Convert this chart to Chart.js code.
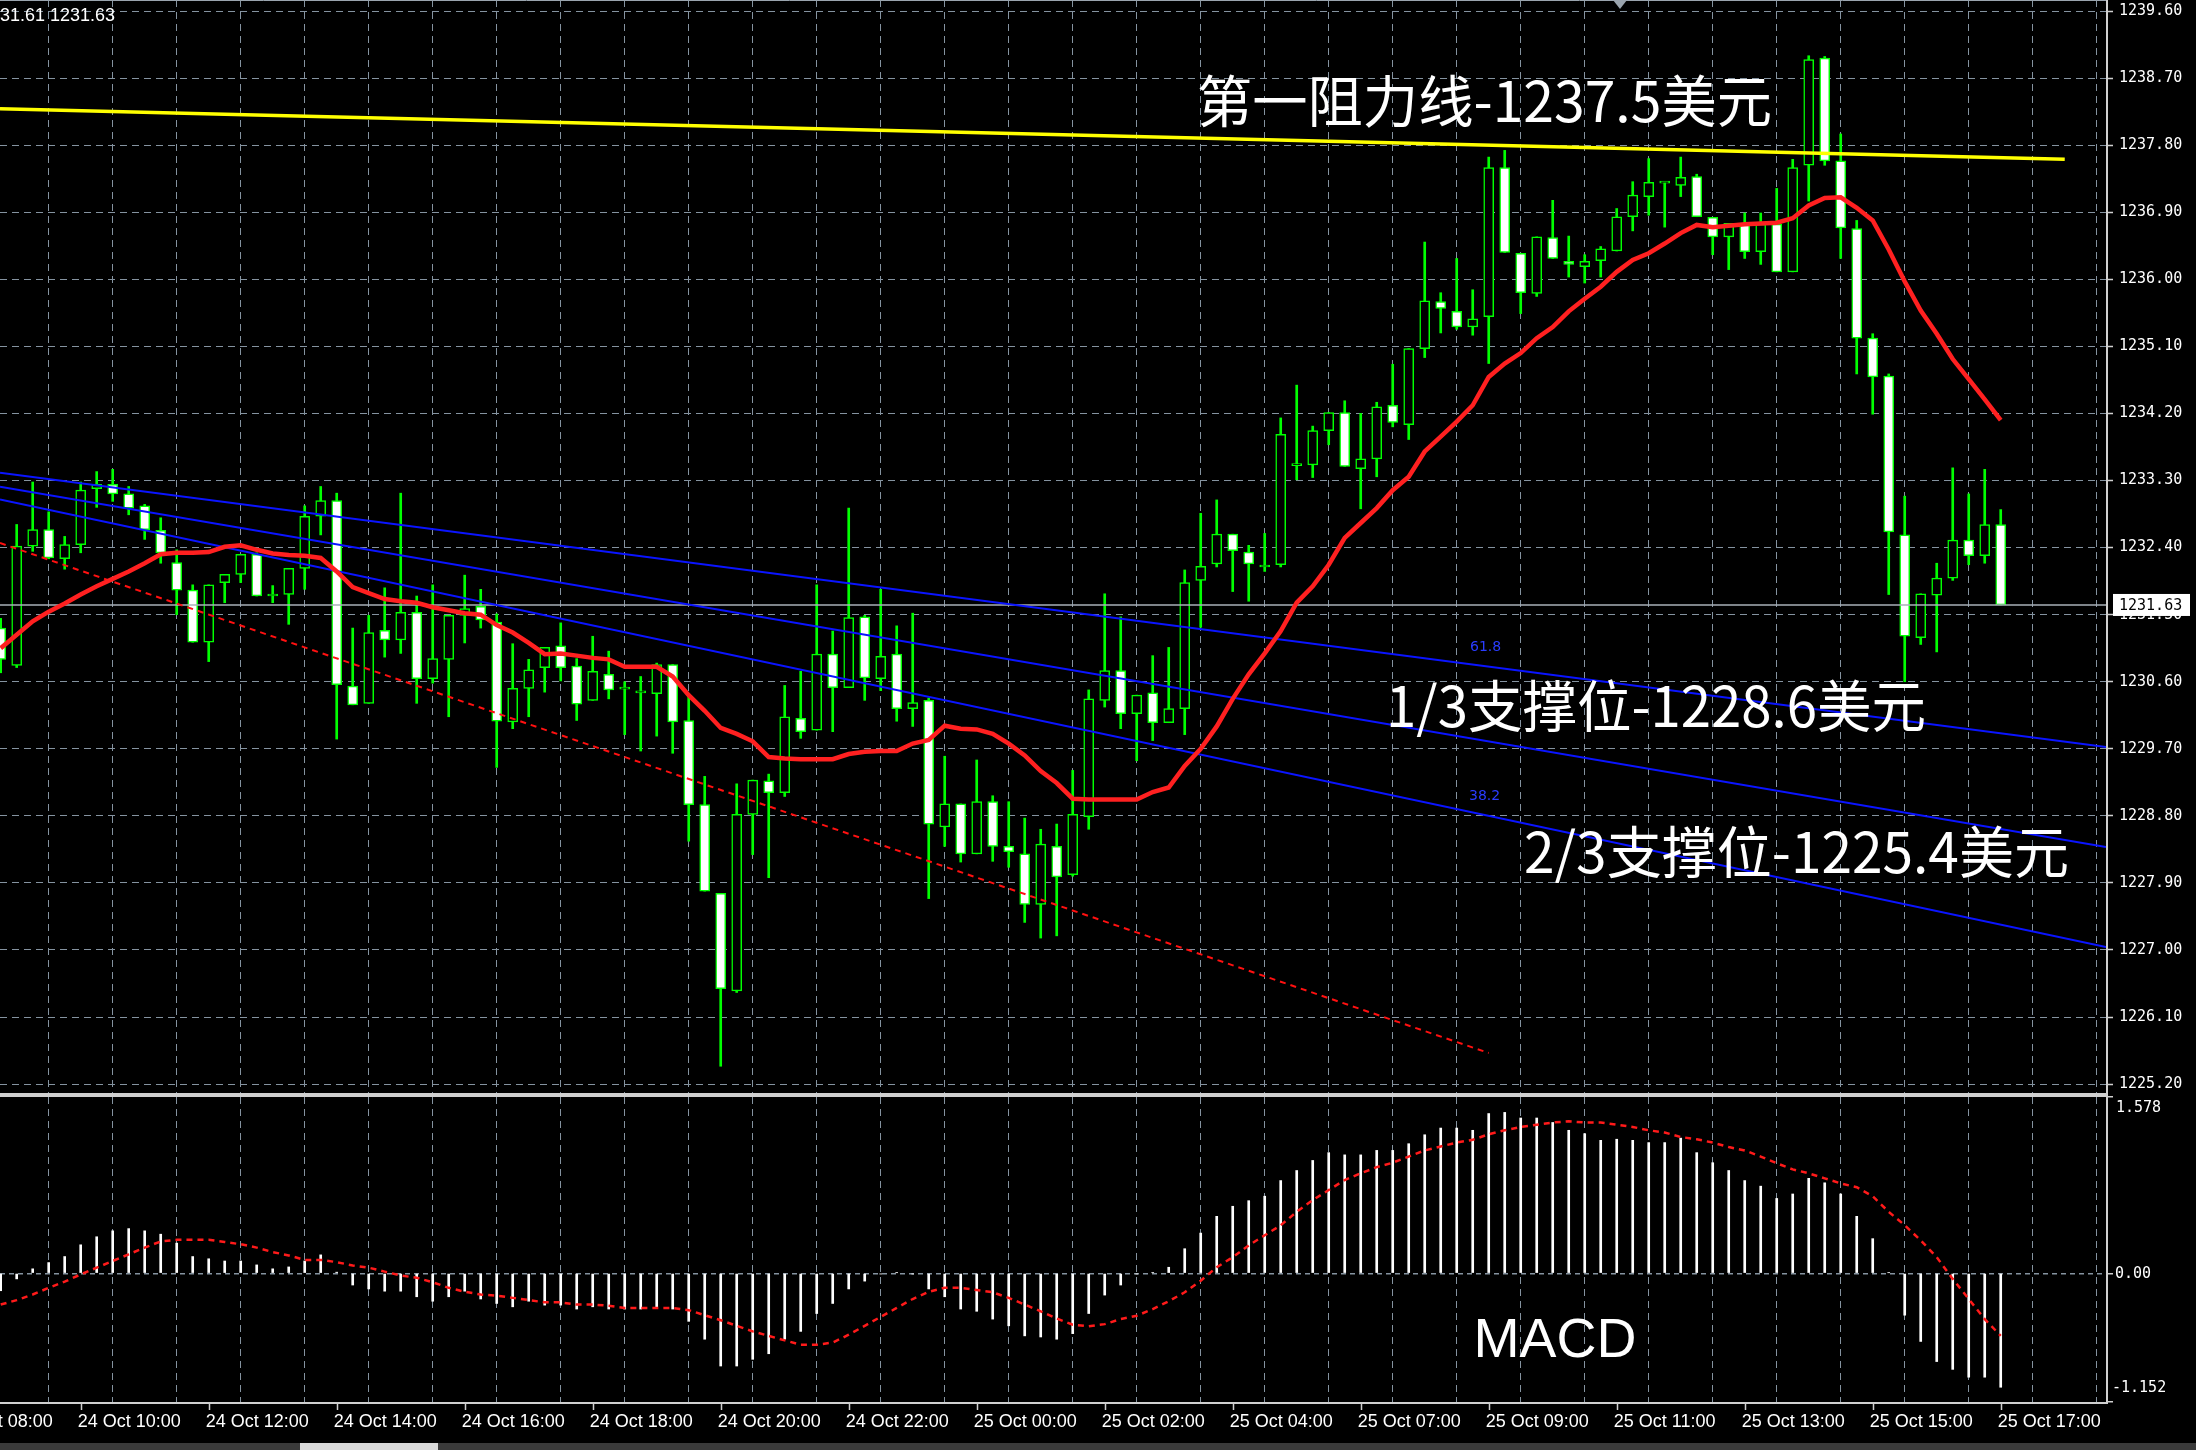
<!DOCTYPE html>
<html><head><meta charset="utf-8">
<script src="https://cdn.jsdelivr.net/npm/chart.js@4.4.1/dist/chart.umd.min.js"></script>
<style>
html,body{margin:0;padding:0;background:#000;width:2196px;height:1450px;overflow:hidden;}
.w{position:absolute;left:0;}
</style></head><body>
<div class="w" style="top:0;width:2196px;height:1095px"><canvas id="c1" width="2196" height="1095"></canvas></div>
<div class="w" style="top:1095px;width:2196px;height:355px"><canvas id="c2" width="2196" height="355"></canvas></div>
<script>
// ---------------- DATA ----------------
const timeLabels = ["24 Oct 08:00","24 Oct 10:00","24 Oct 12:00","24 Oct 14:00","24 Oct 16:00","24 Oct 18:00","24 Oct 20:00","24 Oct 22:00","25 Oct 00:00","25 Oct 02:00","25 Oct 04:00","25 Oct 07:00","25 Oct 09:00","25 Oct 11:00","25 Oct 13:00","25 Oct 15:00","25 Oct 17:00"];
const timeLabelBar = [-3,5,13,21,29,37,45,53,61,69,77,85,93,101,109,117,125];
const gridBars = [1,5,9,13,17,21,25,29,33,37,41,45,49,53,57,61,65,69,73,77,81,85,89,93,97,101,105,109,113,117,121,125,129];
const priceTicks = [1239.60,1238.70,1237.80,1236.90,1236.00,1235.10,1234.20,1233.30,1232.40,1231.50,1230.60,1229.70,1228.80,1227.90,1227.00,1226.10,1225.20];

const open  = [1231.32,1230.82,1232.42,1232.64,1232.25,1232.44,1233.19,1233.25,1233.12,1232.96,1232.63,1232.20,1231.83,1231.13,1231.93,1232.04,1232.31,1231.75,1231.77,1232.12,1232.82,1233.03,1230.54,1230.31,1231.29,1231.16,1231.53,1230.64,1230.90,1231.49,1231.61,1231.40,1230.06,1230.51,1230.79,1231.08,1230.81,1230.35,1230.70,1230.50,1230.45,1230.44,1230.83,1230.08,1228.95,1227.76,1226.45,1228.82,1229.27,1229.11,1230.11,1229.95,1230.97,1230.52,1231.47,1230.64,1230.97,1230.24,1230.35,1228.65,1228.96,1228.29,1228.99,1228.39,1228.29,1227.61,1228.39,1228.01,1228.79,1230.35,1230.75,1230.17,1230.45,1230.05,1230.24,1231.96,1232.18,1232.58,1232.34,1232.14,1232.17,1233.50,1233.51,1233.97,1234.21,1233.46,1233.59,1234.31,1234.05,1235.07,1235.70,1235.57,1235.36,1235.50,1237.50,1236.35,1235.81,1236.56,1236.24,1236.17,1236.25,1236.38,1236.84,1237.11,1237.29,1237.26,1237.38,1236.83,1236.57,1236.74,1236.37,1236.74,1236.10,1237.53,1238.97,1237.59,1236.68,1235.21,1234.70,1232.57,1231.19,1231.76,1231.99,1232.50,1232.29,1232.71];
const high  = [1231.45,1232.71,1233.28,1232.88,1232.55,1233.28,1233.42,1233.45,1233.22,1232.98,1232.80,1232.37,1231.90,1231.90,1232.04,1232.31,1232.33,1231.89,1232.12,1232.96,1233.22,1233.13,1231.32,1231.49,1231.86,1233.13,1231.75,1231.90,1231.49,1232.03,1231.84,1231.51,1231.11,1230.90,1231.06,1231.39,1230.91,1231.21,1231.01,1230.60,1230.67,1230.85,1230.83,1230.42,1229.33,1227.76,1229.23,1229.28,1229.36,1230.55,1230.74,1231.90,1231.28,1232.93,1231.49,1231.84,1231.35,1231.52,1230.38,1229.60,1228.96,1229.55,1229.07,1228.99,1228.77,1228.62,1228.69,1229.41,1230.49,1231.78,1231.47,1230.42,1230.95,1231.06,1232.10,1232.86,1233.04,1232.58,1232.43,1232.59,1234.14,1234.58,1234.03,1234.21,1234.37,1234.20,1234.35,1234.86,1235.07,1236.50,1235.82,1236.28,1235.86,1237.64,1237.73,1236.35,1236.57,1237.06,1236.58,1236.33,1236.44,1236.95,1237.31,1237.62,1237.30,1237.64,1237.41,1236.83,1236.75,1236.89,1236.89,1237.22,1237.61,1239.00,1238.99,1237.95,1236.79,1235.27,1234.73,1233.09,1231.78,1232.19,1233.47,1233.12,1233.45,1232.91];
const low   = [1230.72,1230.79,1232.35,1232.25,1232.11,1232.33,1232.94,1233.02,1232.84,1232.51,1232.19,1231.50,1231.13,1230.87,1231.66,1231.93,1231.75,1231.66,1231.37,1231.84,1232.57,1229.83,1230.29,1230.31,1230.93,1230.98,1230.31,1230.58,1230.13,1231.12,1231.32,1229.45,1229.97,1230.13,1230.46,1230.61,1230.08,1230.35,1230.37,1229.89,1229.67,1229.87,1229.64,1228.46,1227.79,1225.44,1226.43,1228.28,1227.97,1229.06,1229.84,1229.95,1229.93,1230.52,1230.35,1230.48,1230.07,1230.00,1227.69,1228.39,1228.18,1228.29,1228.19,1228.11,1227.37,1227.16,1227.19,1227.99,1228.62,1230.26,1229.97,1229.54,1229.81,1230.05,1229.89,1231.33,1232.14,1231.81,1231.68,1232.08,1232.14,1233.31,1233.34,1233.78,1233.49,1232.92,1233.35,1234.02,1233.85,1234.95,1235.28,1235.33,1235.25,1234.87,1236.36,1235.54,1235.77,1236.28,1236.03,1235.95,1236.03,1236.38,1236.65,1236.86,1236.70,1237.11,1236.84,1236.33,1236.13,1236.28,1236.20,1236.10,1236.10,1237.05,1237.53,1236.28,1234.73,1234.19,1231.77,1230.60,1231.10,1231.00,1231.96,1232.17,1232.19,1231.63];
const close = [1230.90,1232.42,1232.64,1232.26,1232.44,1233.17,1233.25,1233.12,1232.93,1232.64,1232.33,1231.83,1231.13,1231.90,1232.04,1232.31,1231.75,1231.75,1232.12,1232.82,1233.03,1230.56,1230.29,1231.26,1231.16,1231.53,1230.64,1230.91,1231.49,1231.58,1231.43,1230.07,1230.51,1230.76,1231.06,1230.79,1230.30,1230.74,1230.49,1230.50,1230.45,1230.83,1230.06,1228.95,1227.79,1226.48,1228.82,1229.28,1229.11,1230.13,1229.93,1230.97,1230.52,1231.46,1230.65,1230.94,1230.24,1230.32,1228.69,1228.96,1228.29,1228.99,1228.39,1228.32,1227.61,1228.42,1227.98,1228.82,1230.37,1230.75,1230.17,1230.42,1230.05,1230.24,1231.93,1232.15,1232.58,1232.36,1232.18,1232.14,1233.92,1233.50,1233.97,1234.21,1233.49,1233.59,1234.29,1234.08,1235.07,1235.71,1235.61,1235.36,1235.47,1237.50,1236.36,1235.82,1236.57,1236.28,1236.20,1236.24,1236.41,1236.84,1237.13,1237.30,1237.29,1237.37,1236.84,1236.57,1236.75,1236.37,1236.74,1236.10,1237.50,1238.95,1237.59,1236.69,1235.21,1234.69,1232.61,1231.21,1231.78,1231.99,1232.50,1232.29,1232.71,1231.63];
const maLine = [1231.05,1231.23,1231.41,1231.54,1231.65,1231.77,1231.88,1231.98,1232.08,1232.19,1232.31,1232.33,1232.33,1232.34,1232.41,1232.43,1232.37,1232.32,1232.30,1232.29,1232.26,1232.08,1231.87,1231.79,1231.71,1231.68,1231.66,1231.60,1231.56,1231.52,1231.50,1231.36,1231.26,1231.12,1230.97,1230.98,1230.95,1230.92,1230.90,1230.80,1230.80,1230.80,1230.67,1230.42,1230.21,1229.98,1229.90,1229.80,1229.59,1229.57,1229.56,1229.56,1229.56,1229.63,1229.66,1229.67,1229.67,1229.77,1229.82,1230.01,1229.97,1229.96,1229.90,1229.77,1229.61,1229.40,1229.24,1229.03,1229.02,1229.02,1229.02,1229.02,1229.12,1229.18,1229.47,1229.70,1230.00,1230.37,1230.70,1230.98,1231.28,1231.66,1231.88,1232.17,1232.53,1232.73,1232.93,1233.17,1233.35,1233.69,1233.89,1234.09,1234.31,1234.69,1234.87,1235.01,1235.21,1235.36,1235.57,1235.74,1235.90,1236.10,1236.26,1236.35,1236.48,1236.62,1236.73,1236.70,1236.72,1236.74,1236.75,1236.76,1236.82,1236.99,1237.09,1237.10,1236.96,1236.79,1236.40,1235.97,1235.58,1235.27,1234.93,1234.66,1234.39,1234.11];
const macdHist = [-0.156,-0.05,0.04,0.096,0.15,0.255,0.327,0.38,0.40,0.38,0.35,0.27,0.15,0.13,0.11,0.11,0.075,0.04,0.057,0.11,0.165,0.01,-0.105,-0.14,-0.16,-0.16,-0.21,-0.25,-0.21,-0.16,-0.23,-0.27,-0.30,-0.25,-0.285,-0.285,-0.32,-0.30,-0.32,-0.32,-0.32,-0.30,-0.32,-0.43,-0.59,-0.83,-0.83,-0.77,-0.72,-0.59,-0.52,-0.36,-0.27,-0.14,-0.07,-0.005,0.005,-0.005,-0.14,-0.21,-0.32,-0.34,-0.41,-0.47,-0.56,-0.57,-0.59,-0.54,-0.36,-0.195,-0.105,-0.005,0.005,0.054,0.22,0.36,0.51,0.60,0.65,0.69,0.83,0.92,1.01,1.08,1.06,1.06,1.10,1.10,1.16,1.24,1.30,1.30,1.28,1.43,1.44,1.39,1.39,1.35,1.28,1.25,1.19,1.20,1.19,1.17,1.17,1.21,1.08,0.99,0.92,0.83,0.78,0.67,0.71,0.85,0.81,0.71,0.51,0.31,0.005,-0.375,-0.61,-0.79,-0.86,-0.93,-0.93,-1.02];
const macdSignal = [-0.28,-0.24,-0.19,-0.13,-0.075,-0.01,0.05,0.11,0.17,0.23,0.285,0.30,0.30,0.30,0.28,0.26,0.23,0.19,0.16,0.12,0.12,0.10,0.07,0.05,0.015,-0.02,-0.04,-0.08,-0.13,-0.165,-0.19,-0.20,-0.22,-0.24,-0.26,-0.26,-0.28,-0.28,-0.29,-0.31,-0.31,-0.31,-0.31,-0.33,-0.375,-0.42,-0.47,-0.52,-0.56,-0.60,-0.64,-0.64,-0.62,-0.55,-0.47,-0.39,-0.31,-0.23,-0.165,-0.13,-0.13,-0.15,-0.17,-0.22,-0.28,-0.34,-0.405,-0.46,-0.475,-0.455,-0.41,-0.38,-0.32,-0.25,-0.17,-0.066,0.054,0.144,0.25,0.34,0.43,0.55,0.655,0.745,0.835,0.895,0.95,0.99,1.045,1.10,1.135,1.17,1.195,1.245,1.28,1.31,1.33,1.35,1.36,1.35,1.35,1.33,1.31,1.28,1.26,1.22,1.20,1.17,1.13,1.10,1.045,0.985,0.93,0.895,0.85,0.805,0.77,0.69,0.55,0.43,0.295,0.144,-0.05,-0.23,-0.41,-0.56];

// drawn lines: [bar index, price]
const resistanceLine = [[-0.044,1238.29],[129,1237.61]];
const channel618 = [[-0.044,1233.405],[131.58,1229.724]];
const channelMid = [[-0.044,1233.217],[131.58,1228.382]];
const channel382 = [[-0.044,1233.047],[131.58,1227.040]];
const trendRed   = [[-0.044,1232.461],[93.0,1225.618]];
const lastPrice = 1231.63;
const macdRange = [-1.152, 1.578];

// ---------------- SETUP ----------------
const XMIN = -0.04375, XMAX = 131.58;
const GRID = '#8593a0', GREEN = '#00ff00', FRAME = '#d0d0d0';
const pts = arr => arr.map(p => ({x:p[0], y:p[1]}));
const lineDs = (data, color, width, order, dash) => ({type:'line', data, borderColor:color, borderWidth:width, pointRadius:0, tension:0, fill:false, order, clip:0, borderDash:dash||[]});

function xAxis(h){
  return {type:'linear', min:XMIN, max:XMAX, offset:false,
    afterBuildTicks: s => { s.ticks = gridBars.map(v=>({value:v})); },
    afterFit: s => { s.height = h; s.paddingLeft = 0; s.paddingRight = 0; },
    ticks:{display:false}, grid:{color:GRID, lineWidth:1, drawTicks:false},
    border:{display:false, dash:[7,5]}};
}

const pricePlugin = {
  id:'pricedeco',
  afterDraw(chart){
    const {ctx, chartArea:a, scales:{y}} = chart;
    ctx.save();
    ctx.strokeStyle = FRAME; ctx.lineWidth = 2;
    ctx.beginPath();
    ctx.moveTo(a.right+1, 0); ctx.lineTo(a.right+1, a.bottom+2);
    ctx.moveTo(0, a.bottom+1); ctx.lineTo(a.right+1, a.bottom+1);
    ctx.stroke();
    ctx.lineWidth = 1; ctx.strokeStyle = '#9aa4ae';
    ctx.beginPath(); ctx.moveTo(0,0.5); ctx.lineTo(a.right,0.5); ctx.stroke();
    // shift marker
    ctx.fillStyle = '#9aa4ae';
    ctx.beginPath(); ctx.moveTo(1613,0); ctx.lineTo(1627,0); ctx.lineTo(1620,9); ctx.closePath(); ctx.fill();
    // last price box
    const py = y.getPixelForValue(lastPrice);
    ctx.fillStyle = '#ffffff';
    ctx.fillRect(a.right+7, py-11, 77, 22);
    ctx.fillStyle = '#000000';
    ctx.font = '15px "DejaVu Sans Mono"'; ctx.textBaseline = 'middle'; ctx.textAlign = 'left';
    ctx.fillText(lastPrice.toFixed(2), a.right+13, py+1);
    // header
    ctx.fillStyle = '#ffffff'; ctx.textAlign = 'right'; ctx.textBaseline = 'middle';
    ctx.font = '18px "Liberation Sans"';
    ctx.fillText('1231.61 1231.63', 115, 16);
    // fibo labels
    ctx.textAlign = 'left'; ctx.fillStyle = '#2a3cff'; ctx.font = '14px "DejaVu Sans"';
    ctx.fillText('61.8', 1470, 647);
    ctx.fillText('38.2', 1469, 796);
    // annotations
    ctx.fillStyle = '#ffffff';
    ctx.font = '56px "Noto Sans CJK SC"';
    ctx.fillText('第一阻力线-1237.5美元', 1197, 101, 575);
    ctx.fillText('1/3支撑位-1228.6美元', 1386, 706, 540);
    ctx.fillText('2/3支撑位-1225.4美元', 1524, 852, 545);
    ctx.restore();
  }
};

const priceChart = new Chart(document.getElementById('c1'), {
  type:'bar',
  data:{datasets:[
    lineDs(maLine.map((v,i)=>({x:i,y:v})), '#ff2020', 4.5, 0),
    lineDs(pts(resistanceLine), '#ffff00', 3.5, 1),
    lineDs(pts(channel618), '#0a14ff', 2, 2),
    lineDs(pts(channelMid), '#0a14ff', 2, 3),
    lineDs(pts(channel382), '#0a14ff', 2, 4),
    lineDs(pts(trendRed), '#ff1010', 2, 5, [6,5]),
    lineDs([{x:XMIN,y:lastPrice},{x:XMAX,y:lastPrice}], '#a9b1b9', 1.5, 6),
    {type:'bar', data: open.map((o,i)=>({x:i, y:[o, close[i]]})), barThickness:10, borderWidth:1.5, borderColor:GREEN,
     backgroundColor: c => (close[c.dataIndex] < open[c.dataIndex] ? '#ffffff' : '#000000'),
     borderSkipped:false, minBarLength:2, grouped:false, order:10, clip:0},
    {type:'bar', data: low.map((l,i)=>({x:i, y:[l, high[i]]})), barThickness:2, backgroundColor:GREEN, borderWidth:0, grouped:false, order:11, clip:0}
  ]},
  options:{
    responsive:false, animation:false, events:[],
    layout:{padding:{left:0,right:0,top:0,bottom:2}},
    plugins:{legend:{display:false}, tooltip:{enabled:false}},
    scales:{
      x: xAxis(0),
      y: {type:'linear', position:'right', min:1225.081, max:1239.748,
        afterBuildTicks: s => { s.ticks = priceTicks.map(v=>({value:v})); },
        afterFit: s => { s.width = 90; s.paddingTop = 0; s.paddingBottom = 0; },
        ticks:{color:'#ffffff', font:{family:'DejaVu Sans Mono', size:15}, padding:6, autoSkip:false, callback: v => Number(v).toFixed(2)},
        grid:{color:GRID, lineWidth:1, drawTicks:true, tickLength:7, tickColor:FRAME, tickWidth:1.5},
        border:{display:false, dash:[7,5]}}
    }
  },
  plugins:[pricePlugin]
});

const macdPlugin = {
  id:'macddeco',
  afterDraw(chart){
    const {ctx, chartArea:a, scales:{x, y}} = chart;
    ctx.save();
    ctx.strokeStyle = FRAME; ctx.lineWidth = 2;
    ctx.beginPath();
    ctx.moveTo(0, a.top-1); ctx.lineTo(a.right+1, a.top-1);
    ctx.moveTo(0, a.bottom+1); ctx.lineTo(a.right+1, a.bottom+1);
    ctx.moveTo(a.right+1, a.top-2); ctx.lineTo(a.right+1, a.bottom+2);
    ctx.stroke();
    // time ticks + labels
    ctx.lineWidth = 1.5;
    ctx.beginPath();
    timeLabelBar.forEach(k => { const px = Math.round(x.getPixelForValue(k))+0.5; ctx.moveTo(px, a.bottom+2); ctx.lineTo(px, a.bottom+8); });
    ctx.stroke();
    ctx.fillStyle = '#ffffff'; ctx.textBaseline = 'middle'; ctx.textAlign = 'left';
    ctx.font = '18px "Liberation Sans Narrow", "Liberation Sans", sans-serif';
    timeLabels.forEach((t,i) => { ctx.fillText(t, x.getPixelForValue(timeLabelBar[i]) - 3, a.bottom + 20, 107); });
    // right axis labels
    ctx.font = '15px "DejaVu Sans Mono"';
    ctx.fillText(macdRange[1].toFixed(3), a.right+10, a.top+11);
    ctx.fillText('0.00', a.right+9, y.getPixelForValue(0)+1);
    ctx.fillText(macdRange[0].toFixed(3), a.right+6, a.bottom-14);
    // indicator name
    ctx.font = '56px "Liberation Sans"'; ctx.textAlign = 'center';
    ctx.fillText('MACD', 1555, 247, 163);
    // bottom strip
    ctx.fillStyle = '#3a3a3a'; ctx.fillRect(0, 348, 2196, 7);
    ctx.fillStyle = '#d8d8d8'; ctx.fillRect(300, 348, 138, 7);
    ctx.restore();
  }
};

const macdChart = new Chart(document.getElementById('c2'), {
  type:'bar',
  data:{datasets:[
    {type:'line', data: macdSignal.map((v,i)=>({x:i,y:v})), borderColor:'#ff1a1a', borderWidth:2.5, borderDash:[6,5], pointRadius:0, tension:0, fill:false, order:0, clip:0},
    {type:'bar', data: macdHist.map((v,i)=>({x:i,y:v})), barThickness:2, backgroundColor:'#ffffff', borderWidth:0, grouped:false, order:1, clip:0}
  ]},
  options:{
    responsive:false, animation:false, events:[],
    layout:{padding:{left:0,right:0,top:2,bottom:0}},
    plugins:{legend:{display:false}, tooltip:{enabled:false}},
    scales:{
      x: xAxis(48),
      y: {type:'linear', position:'right', min:macdRange[0], max:macdRange[1],
        afterBuildTicks: s => { s.ticks = [{value:macdRange[0]},{value:0},{value:macdRange[1]}]; },
        afterFit: s => { s.width = 90; s.paddingTop = 0; s.paddingBottom = 0; },
        ticks:{display:false},
        grid:{color: c => (c.tick && c.tick.value === 0 ? GRID : 'rgba(0,0,0,0)'), lineWidth:1.5, drawTicks:true, tickLength:7, tickColor:FRAME, tickWidth:1.5},
        border:{display:false, dash:[5,4]}}
    }
  },
  plugins:[macdPlugin]
});
</script>
</body></html>
